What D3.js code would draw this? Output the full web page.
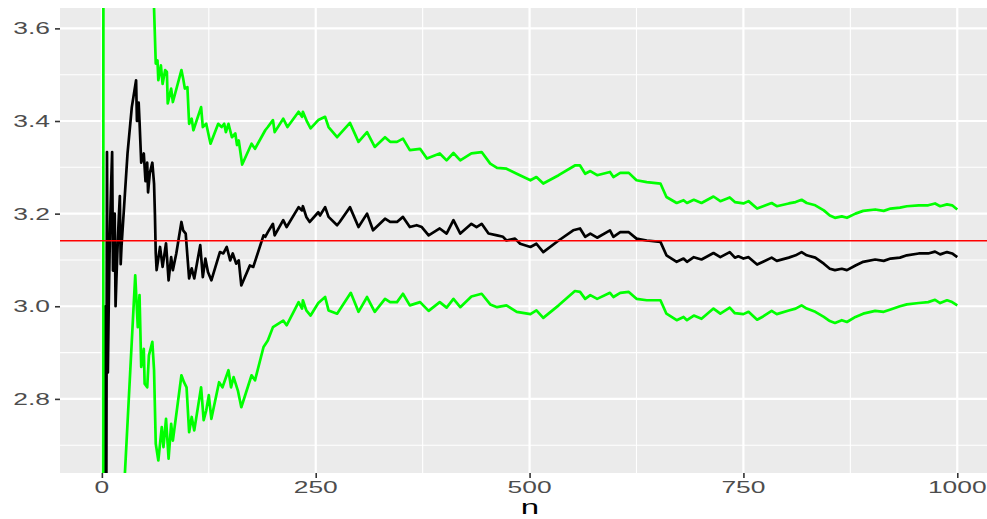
<!DOCTYPE html>
<html>
<head>
<meta charset="utf-8">
<script src="https://cdn.jsdelivr.net/npm/d3@7"></script>
<style>
	body { margin:0; background:#ffffff; }
	text { font-family:"Liberation Sans", Arial, sans-serif; }
</style>
</head>
<body>
<div id="chart-box"></div>
<script>
// running estimate of pi (black)
const estN=[1,2,3,4,5,6,7,8,9,10,11,12,13,14,15,16,17,18,19,20,21,22,23,30,35,40,41,43,44,46,49,51,53,54,56,59,61,62,63,64,68,71,75,78,81,83,87,93,95,98,102,105,108,115,118,121,124,128,138,142,146,150,153,157,160,163,173,177,189,191,194,200,202,212,216,230,234,235,239,243,253,255,261,265,275,278,290,300,310,317,331,337,345,352,360,368,374,382,395,403,411,419,432,438,444,452,462,469,473,483,489,501,508,516,534,551,559,565,571,579,594,598,606,616,625,637,653,660,672,680,684,692,701,715,723,734,740,744,750,756,766,773,783,789,803,811,818,824,834,844,851,857,865,871,881,890,904,914,922,933,941,955,966,974,980,988,994,1000];
const estVal=[0,2.0,2.667,3.0,2.4,3.333,2.857,3.0,3.111,3.2,3.273,3.333,3.077,3.143,3.2,3.0,3.059,3.111,3.158,3.2,3.238,3.091,3.13,3.33,3.43,3.488,3.40,3.44,3.40,3.31,3.33,3.27,3.31,3.246,3.287,3.31,3.265,3.2,3.114,3.078,3.128,3.085,3.136,3.056,3.106,3.078,3.114,3.182,3.164,3.157,3.06,3.082,3.06,3.132,3.063,3.103,3.074,3.056,3.117,3.114,3.128,3.099,3.114,3.092,3.099,3.045,3.088,3.085,3.153,3.15,3.16,3.178,3.153,3.186,3.171,3.214,3.207,3.216,3.193,3.182,3.203,3.196,3.214,3.193,3.175,3.182,3.214,3.171,3.2,3.164,3.189,3.182,3.182,3.193,3.171,3.175,3.171,3.153,3.168,3.157,3.186,3.157,3.178,3.171,3.178,3.157,3.153,3.15,3.142,3.146,3.135,3.128,3.135,3.117,3.142,3.164,3.168,3.15,3.157,3.148,3.164,3.15,3.16,3.16,3.146,3.142,3.139,3.11,3.096,3.103,3.096,3.106,3.101,3.115,3.106,3.117,3.105,3.108,3.103,3.106,3.09,3.096,3.105,3.098,3.105,3.11,3.117,3.11,3.105,3.092,3.081,3.078,3.081,3.078,3.088,3.096,3.101,3.098,3.103,3.105,3.11,3.114,3.114,3.118,3.112,3.117,3.114,3.106];

// upper band (green)
const upN=[1,2,10,20,40,59,61,63,65,66,69,71,74,76,77,81,83,93,95,97,100,102,105,107,116,118,122,127,136,140,143,145,148,152,156,158,160,164,175,179,191,194,200,202,212,217,230,234,235,240,244,253,261,265,275,290,300,310,319,331,337,345,352,360,372,380,395,403,411,419,432,444,454,462,473,485,501,508,516,534,553,559,565,571,579,594,598,606,616,625,637,653,660,672,680,684,692,701,715,723,734,740,750,756,766,773,783,789,803,811,818,824,834,844,851,857,865,871,881,890,904,914,922,933,941,955,966,974,980,988,994,1000];
const upVal=[0,4.77,4.2,3.95,3.90,3.70,3.643,3.524,3.531,3.488,3.52,3.48,3.51,3.506,3.438,3.47,3.441,3.51,3.492,3.47,3.473,3.394,3.405,3.38,3.43,3.387,3.394,3.351,3.394,3.387,3.394,3.376,3.394,3.365,3.373,3.348,3.358,3.306,3.351,3.34,3.38,3.387,3.402,3.376,3.405,3.387,3.42,3.409,3.42,3.398,3.384,3.402,3.409,3.387,3.365,3.396,3.355,3.376,3.344,3.365,3.355,3.355,3.362,3.337,3.34,3.319,3.33,3.315,3.331,3.315,3.33,3.333,3.308,3.299,3.297,3.286,3.272,3.279,3.265,3.283,3.304,3.304,3.286,3.292,3.283,3.29,3.279,3.288,3.288,3.272,3.268,3.265,3.236,3.223,3.229,3.223,3.23,3.223,3.237,3.227,3.235,3.225,3.222,3.227,3.211,3.216,3.223,3.216,3.222,3.225,3.23,3.223,3.218,3.207,3.196,3.191,3.194,3.191,3.2,3.206,3.209,3.206,3.211,3.213,3.216,3.218,3.218,3.222,3.216,3.22,3.218,3.209];

// lower band (green)
const loN=[1,2,10,20,27,39,42,44,46,49,50,53,55,59,61,63,66,70,72,75,78,81,83,93,96,99,102,105,108,116,119,122,125,128,137,141,148,151,154,159,163,175,179,189,194,200,212,216,230,234,235,239,244,253,261,265,275,291,300,310,319,331,337,345,352,360,372,382,395,403,411,419,432,444,454,462,473,485,501,508,516,534,553,559,565,571,579,594,598,606,616,625,637,653,660,672,680,684,692,701,715,723,734,740,750,756,766,773,783,789,803,811,818,824,834,844,851,857,865,871,881,890,904,914,922,933,941,955,966,974,980,988,994,1000];
const loVal=[0,-0.77,1.6,2.3,2.642,3.067,2.955,3.024,2.869,2.908,2.833,2.825,2.894,2.923,2.862,2.703,2.667,2.739,2.696,2.757,2.671,2.746,2.71,2.851,2.836,2.825,2.728,2.761,2.732,2.825,2.754,2.775,2.808,2.757,2.836,2.825,2.862,2.825,2.847,2.818,2.782,2.851,2.84,2.912,2.926,2.955,2.969,2.959,3.009,2.995,3.013,2.991,2.98,3.007,3.02,2.991,2.984,3.029,2.988,3.02,2.988,3.016,3.009,3.009,3.027,3.002,3.009,2.99,3.009,2.997,3.016,2.998,3.021,3.027,3.004,2.998,3.002,2.988,2.983,2.991,2.975,3.002,3.033,3.031,3.016,3.024,3.016,3.029,3.02,3.029,3.031,3.016,3.013,3.013,2.984,2.97,2.977,2.97,2.98,2.973,2.995,2.984,2.997,2.985,2.983,2.988,2.971,2.978,2.99,2.983,2.991,2.995,3.002,2.995,2.988,2.977,2.968,2.964,2.97,2.966,2.977,2.984,2.99,2.988,2.993,3.0,3.004,3.007,3.009,3.014,3.007,3.013,3.009,3.002];

const trueValue=Math.PI;
const xTicks=[0,250,500,750,1000];
const xMinor=[125,375,625,875];
const yTicks=[2.8,3.0,3.2,3.4,3.6];
const yMinor=[2.7,2.9,3.1,3.3,3.5];

const w=987, h=519;
const panel={left:60, right:1000, top:8, bottom:473};
const stretch=1.65; // reference text is drawn wide

const svg=d3.select("#chart-box")
	.append("svg")
	.attr("width",w)
	.attr("height",h)
	.style("display","block");

const xScale=d3.scaleLinear()
	.domain([-48.95,1049.95])
	.range([panel.left,panel.right]);
const yScale=d3.scaleLinear()
	.domain([2.64,3.644])
	.range([panel.bottom,panel.top]);

// panel background
svg.append("rect")
	.attr("x",panel.left)
	.attr("y",panel.top)
	.attr("width",panel.right-panel.left)
	.attr("height",panel.bottom-panel.top)
	.style("fill","#EBEBEB");

svg.append("clipPath")
	.attr("id","clip")
	.append("rect")
	.attr("x",panel.left)
	.attr("y",panel.top)
	.attr("width",panel.right-panel.left)
	.attr("height",panel.bottom-panel.top);

const grid=svg.append("g");
// minor grid
grid.selectAll(".ymin").data(yMinor).enter().append("line")
	.attr("x1",panel.left).attr("x2",panel.right)
	.attr("y1",d=>yScale(d)).attr("y2",d=>yScale(d))
	.style("stroke","#fff").style("stroke-width",1.1);
grid.selectAll(".xmin").data(xMinor).enter().append("line")
	.attr("y1",panel.top).attr("y2",panel.bottom)
	.attr("x1",d=>xScale(d)).attr("x2",d=>xScale(d))
	.style("stroke","#fff").style("stroke-width",1.1);
// major grid
grid.selectAll(".ymaj").data(yTicks).enter().append("line")
	.attr("x1",panel.left).attr("x2",panel.right)
	.attr("y1",d=>yScale(d)).attr("y2",d=>yScale(d))
	.style("stroke","#fff").style("stroke-width",2.2);
grid.selectAll(".xmaj").data(xTicks).enter().append("line")
	.attr("y1",panel.top).attr("y2",panel.bottom)
	.attr("x1",d=>xScale(d)).attr("x2",d=>xScale(d))
	.style("stroke","#fff").style("stroke-width",2.2);

// axes
const yAxis=d3.axisLeft(yScale).tickValues(yTicks).tickSize(5).tickFormat("");
svg.append("g")
	.attr("transform","translate("+panel.left+",0)")
	.call(yAxis)
	.call(g=>g.select(".domain").remove())
	.call(g=>g.selectAll("line").style("stroke","#333").style("stroke-width",1.6));
const xAxis=d3.axisBottom(xScale).tickValues(xTicks).tickSize(5).tickFormat("");
svg.append("g")
	.attr("transform","translate(0,"+panel.bottom+")")
	.call(xAxis)
	.call(g=>g.select(".domain").remove())
	.call(g=>g.selectAll("line").style("stroke","#333").style("stroke-width",1.6));

// tick labels, stretched like the reference
svg.selectAll(".ylab").data(yTicks).enter().append("text")
	.attr("transform",d=>"translate(50,"+(yScale(d)+6)+") scale("+stretch+",1)")
	.attr("text-anchor","end")
	.style("font-size","16px")
	.style("fill","#4D4D4D")
	.text(d=>d.toFixed(1));
svg.selectAll(".xlab").data(xTicks).enter().append("text")
	.attr("transform",d=>"translate("+xScale(d)+",493) scale("+stretch+",1)")
	.attr("text-anchor","middle")
	.style("font-size","16px")
	.style("fill","#4D4D4D")
	.text(d=>d);
svg.append("text")
	.attr("transform","translate("+((panel.left+panel.right)/2)+",514) scale("+stretch+",1)")
	.attr("text-anchor","middle")
	.style("font-size","20px")
	.style("fill","#000")
	.text("n");

// series
const lineGen=d3.line()
	.x(d=>xScale(d[0]))
	.y(d=>yScale(d[1]));
const plot=svg.append("g").attr("clip-path","url(#clip)");

const est=estN.map((n,i)=>[n,estVal[i]]);
const upper=upN.map((n,i)=>[n,upVal[i]]);
const lower=loN.map((n,i)=>[n,loVal[i]]);

plot.append("path").datum(est)
	.attr("d",lineGen)
	.style("fill","none").style("stroke","#000").style("stroke-width",2.7)
	.style("stroke-linejoin","round");
[upper,lower].forEach(band=>
{
	plot.append("path").datum(band)
		.attr("d",lineGen)
		.style("fill","none").style("stroke","#00FF00").style("stroke-width",2.7)
		.style("stroke-linejoin","round");
});
plot.append("line")
	.attr("x1",panel.left).attr("x2",panel.right)
	.attr("y1",yScale(trueValue)).attr("y2",yScale(trueValue))
	.style("stroke","#FF0000").style("stroke-width",1.6);
</script>
</body>
</html>
